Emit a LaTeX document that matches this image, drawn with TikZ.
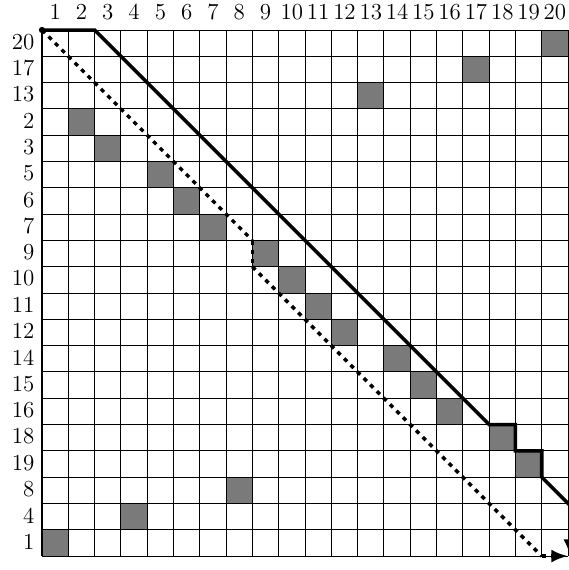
\documentclass[tikz,border=0pt]{standalone}
\usetikzlibrary{arrows.meta}
\begin{document}
\begin{tikzpicture}[x=0.5cm,y=-0.5cm,
  lbl/.style={font=\fontsize{12.4}{15}\selectfont, inner sep=0pt},
  cellfill/.style={fill=black!52},
  gridline/.style={line width=0.55pt},
  mainpath/.style={line width=1.9pt},
  dotpath/.style={line width=1.9pt, dash pattern=on 2.3pt off 2.71pt},
  tipstyle/.style={-{Latex[length=9pt,width=7pt]}}]
\useasboundingbox (-1.597,-1.141) rectangle (20,20.53);
% gray cells and row labels
\foreach \r [count=\i from 0] in {20,17,13,2,3,5,6,7,9,10,11,12,14,15,16,18,19,8,4,1} {
  \fill[cellfill] (\r-1,\i) rectangle (\r,\i+1);
  \node[lbl, anchor=east] (r\r) at (-0.28,\i+0.45) {\r};
}
% column labels
\foreach \c in {1,...,20} {
  \node[lbl] (c\c) at (\c-0.5,-0.68) {\c};
}
% grid
\draw[gridline, xstep=0.5cm, ystep=0.5cm] (0,0) grid (20,20);
% path points
\coordinate (s0) at (0,0);
\coordinate (s1) at (2,0);
\coordinate (s2) at (17,15);
\coordinate (s3) at (18,15);
\coordinate (s4) at (18,16);
\coordinate (s5) at (19,16);
\coordinate (s6) at (19,17);
\coordinate (s7) at (20,18);
\coordinate (s8) at (20.07,18.07);
\coordinate (s9) at (20.07,20);
\coordinate (d0) at (0,0);
\coordinate (d1) at (8,8);
\coordinate (d2) at (8,9);
\coordinate (d3) at (19,20);
\coordinate (d4) at (20,20);
% solid path
\draw[mainpath] (s0) -- (s1) -- (s2) -- (s3) -- (s4) -- (s5) -- (s6) -- (s7) -- (s8);
\draw[mainpath, tipstyle] (s8) -- (s9);
% dotted path
\fill (d0) circle (1.7pt);
\draw[dotpath] (d0) -- (d1);
\draw[dotpath] (d1) -- (d2);
\draw[dotpath] (d2) -- (d3);
\draw[dotpath, tipstyle] (d3) -- (d4);
\end{tikzpicture}
\end{document}
